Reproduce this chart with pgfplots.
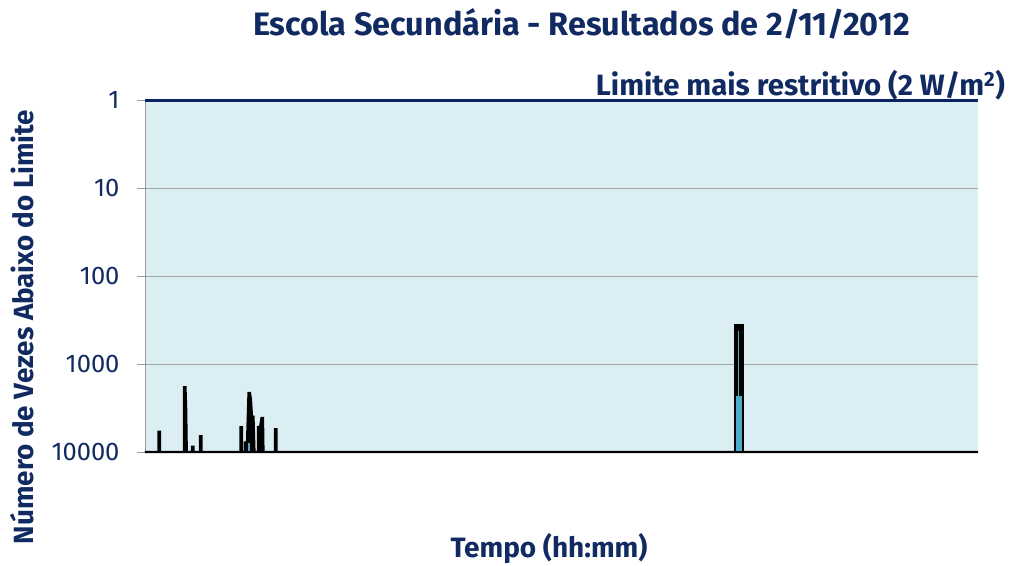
\documentclass[border=0pt]{standalone}
\usepackage{pgfplots}
\pgfplotsset{compat=1.18}
\usepackage{fontspec}
\setmainfont{Fira Sans}
\definecolor{navy}{HTML}{112B62}
\definecolor{bgblue}{HTML}{DAEEF3}
\definecolor{aqua}{HTML}{4BACC6}
\definecolor{topnavy}{HTML}{0A2463}
\begin{document}
\begin{tikzpicture}[x=1pt,y=1pt]
\useasboundingbox (-145,-113) rectangle (866,452);
\begin{axis}[
  at={(0,0)}, anchor=south west,
  scale only axis, width=833pt, height=352pt,
  ymode=log, y dir=reverse,
  xmin=0, xmax=833, ymin=1, ymax=10000,
  ytick={1,10,100,1000,10000},
  yticklabels={1,10,100,1000,10000},
  xtick=\empty,
  axis x line=bottom, axis y line=left,
  x axis line style={-, black, line width=2.5pt},
  y axis line style={-, gray!80, line width=0.8pt},
  ymajorgrids, grid style={gray!70, line width=0.8pt},
  tick align=outside, major tick length=8pt,
  tick style={gray!80, line width=0.8pt},
  minor tick style={draw=none},
  yticklabel style={font=\fontsize{25.5}{28}\selectfont, text=navy, xshift=-14pt},
  /pgf/number format/assume math mode=true,
  axis background/.style={fill=bgblue},
  clip=false,
]
% small spikes
\addplot[black, line width=2.2pt, fill=black] coordinates {
(0,10000) (13.5,10000) (13.5,5870) (15,5870) (15,10000)
(39,10000) (39,1840) (40.5,1840) (41.2,3300) (41.8,10000)
(47,10000) (47,8700) (48.5,8700) (48.5,10000)
(55,10000) (55,6600) (56.5,6600) (56.5,10000)
(95.5,10000) (95.5,5240) (97,5240) (97,10000)
(100,10000) (100,7800) (102,7800) (103.5,2130) (105,2130) (106,2560) (107,3970) (108.5,3970) (109.5,10000)
(113,10000) (113,5200) (115,5200) (116.5,4100) (118,4100) (118.5,10000)
(130,10000) (130,5500) (131.5,5500) (131.5,10000)
(833,10000)
} -- cycle;
% big spike
\addplot[black, line width=2.5pt, fill=black] coordinates {
(590,10000) (590,360) (597.5,360) (597.5,10000)
} -- cycle;
\addplot[draw=none, fill=aqua] coordinates {
(591,9700) (591,2300) (596.5,2300) (596.5,9700)
} -- cycle;
\addplot[aqua, line width=1pt] coordinates {(593.8,2300) (593.8,420)};
% small aqua bits
\addplot[draw=none, fill=aqua] coordinates {
(103,9800) (103,8000) (104.5,8000) (104.5,9800)
} -- cycle;
\draw[topnavy, line width=3pt] (axis cs:0,1) -- (axis cs:833,1);
\end{axis}
\node[text=navy, font=\fontsize{32.4}{35}\selectfont\bfseries] at (436.5,428) {Escola Secundária - Resultados de 2/11/2012};
\node[text=navy, font=\fontsize{29.4}{31}\selectfont\bfseries, anchor=east, inner sep=0pt] at (860,367) {Limite mais restritivo (2 W/m\textsuperscript{2})};
\node[text=navy, font=\fontsize{27.8}{30}\selectfont\bfseries, rotate=90] at (-123,125) {Número de Vezes Abaixo do Limite};
\node[text=navy, font=\fontsize{28}{30}\selectfont\bfseries] at (404,-97) {Tempo (hh:mm)};
\end{tikzpicture}
\end{document}
